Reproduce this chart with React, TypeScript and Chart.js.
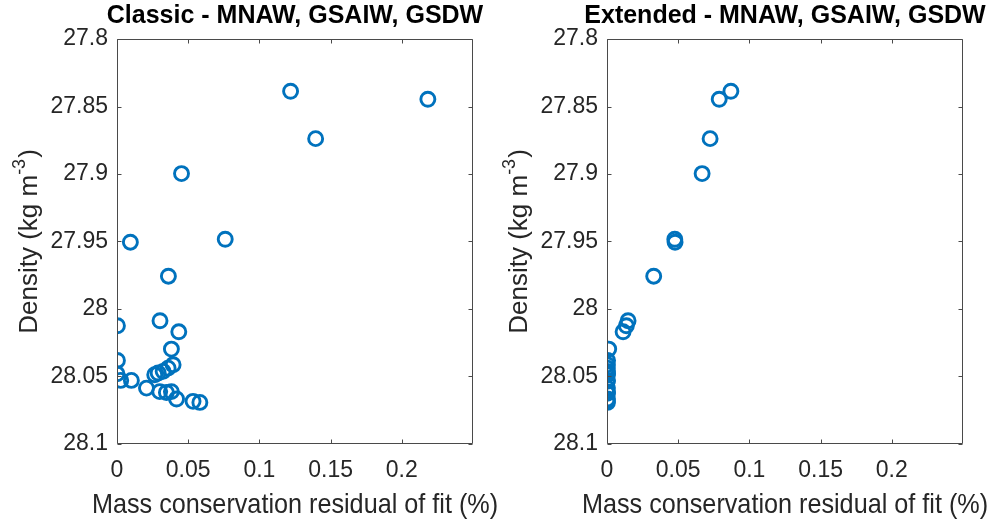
import React, { useEffect, useRef } from "react";
import { Chart, registerables } from "chart.js";

Chart.register(...registerables);

// ---------- data ----------
const classicResidual = [
  0.1219, 0.2183, 0.1395, 0.0453, 0.0094, 0.076, 0.0361, 0.0302, 0.0003, 0.0434,
  0.0382, 0.0003, 0.0394, 0.0359, 0.0324, 0.0289, 0.0265, 0.0, 0.0026, 0.0101,
  0.0207, 0.03, 0.0347, 0.0382, 0.0418, 0.0534, 0.0582,
];
const classicDensity = [
  27.8387, 27.8446, 27.8738, 27.8997, 27.9505, 27.9483, 27.9757, 28.0087, 28.0124, 28.0169,
  28.0297, 28.0381, 28.0413, 28.0438, 28.0462, 28.0474, 28.0487, 28.048, 28.0529, 28.0529,
  28.0586, 28.0612, 28.0618, 28.0612, 28.0667, 28.0684, 28.0692,
];
const extendedResidual = [
  0.087, 0.0788, 0.0724, 0.0668, 0.0478, 0.0476, 0.0328, 0.0148, 0.0136, 0.0113,
  0.0012, 0.0004, 0.0003, 0.0002, 0.0003, 0.0002, 0.0003, 0.0002, 0.0003, 0.0002,
  0.0003, 0.0002, 0.0003, 0.0002, 0.0003, 0.0002, 0.0003,
];
const extendedDensity = [
  27.8387, 27.8446, 27.8738, 27.8997, 27.9505, 27.9483, 27.9757, 28.0087, 28.0124, 28.0169,
  28.0297, 28.0381, 28.0413, 28.0438, 28.0462, 28.0474, 28.0487, 28.048, 28.0529, 28.0535,
  28.0586, 28.0612, 28.0618, 28.0625, 28.0667, 28.0684, 28.0692,
];

const xTickValues = [0, 0.05, 0.1, 0.15, 0.2];
const xTickLabels = ["0", "0.05", "0.1", "0.15", "0.2"];
const yTickValues = [27.8, 27.85, 27.9, 27.95, 28.0, 28.05, 28.1];
const yTickLabels = ["27.8", "27.85", "27.9", "27.95", "28", "28.05", "28.1"];

const panelTitles = ["Classic - MNAW, GSAIW, GSDW", "Extended - MNAW, GSAIW, GSDW"];
const xAxisTitle = "Mass conservation residual of fit (%)";
const yAxisTitleMain = "Density (kg m";
const yAxisTitleSup = "-3";
const yAxisTitleEnd = ")";

const FONT = "'Liberation Sans', Arial, Helvetica, sans-serif";
const MARKER = "#0072BD";
const AXIS = "#262626";

// ---------- plugins ----------
const framePlugin = {
  id: "matlabFrame",
  afterDatasetsDraw(chart: any) {
    const { ctx, chartArea: a, scales } = chart;
    const L = Math.round(a.left) + 0.5;
    const R = Math.round(a.right) - 0.5;
    const T = Math.round(a.top) + 0.5;
    const B = Math.round(a.bottom) - 0.5;
    ctx.save();
    ctx.strokeStyle = "#4a4a4a";
    ctx.lineWidth = 1;
    ctx.beginPath();
    ctx.rect(L, T, R - L, B - T);
    const tl = 4;
    scales.x.ticks.forEach((t: any) => {
      const px = Math.round(scales.x.getPixelForValue(t.value)) + 0.5;
      ctx.moveTo(px, B);
      ctx.lineTo(px, B - tl);
      ctx.moveTo(px, T);
      ctx.lineTo(px, T + tl);
    });
    scales.y.ticks.forEach((t: any) => {
      const py = Math.round(scales.y.getPixelForValue(t.value)) + 0.5;
      ctx.moveTo(L, py);
      ctx.lineTo(L + tl, py);
      ctx.moveTo(R, py);
      ctx.lineTo(R - tl, py);
    });
    ctx.stroke();
    ctx.restore();
  },
};

const textPlugin = {
  id: "matlabTexts",
  afterDraw(chart: any, _args: any, opts: any) {
    const { ctx, chartArea: a } = chart;
    const midX = (a.left + a.right) / 2;
    // panel title, centred on the plot box
    ctx.save();
    ctx.fillStyle = "#000";
    ctx.font = `bold 25px ${FONT}`;
    ctx.textAlign = "center";
    ctx.textBaseline = "alphabetic";
    ctx.fillText(opts.title, midX, 23);
    ctx.restore();

    // x axis title (slightly condensed like the reference)
    ctx.save();
    ctx.fillStyle = AXIS;
    ctx.font = `28px ${FONT}`;
    ctx.textAlign = "center";
    ctx.textBaseline = "alphabetic";
    ctx.translate(midX, 513);
    ctx.scale(0.9, 1);
    ctx.fillText(xAxisTitle, 0, 0);
    ctx.restore();

    // y axis title with superscript
    const mainSize = 26;
    const supSize = 18;
    ctx.save();
    ctx.fillStyle = AXIS;
    const cx = a.left - 80;
    const cy = (a.top + a.bottom) / 2;
    ctx.translate(cx, cy);
    ctx.rotate(-Math.PI / 2);
    ctx.textBaseline = "alphabetic";
    ctx.textAlign = "left";
    ctx.font = `${mainSize}px ${FONT}`;
    const w1 = ctx.measureText(yAxisTitleMain).width;
    const w3 = ctx.measureText(yAxisTitleEnd).width;
    ctx.font = `${supSize}px ${FONT}`;
    const w2 = ctx.measureText(yAxisTitleSup).width;
    const total = w1 + w2 + w3 + 1;
    let x = -total / 2;
    ctx.font = `${mainSize}px ${FONT}`;
    ctx.fillText(yAxisTitleMain, x, 0);
    x += w1;
    ctx.font = `${supSize}px ${FONT}`;
    ctx.fillText(yAxisTitleSup, x, -12);
    x += w2 + 1;
    ctx.font = `${mainSize}px ${FONT}`;
    ctx.fillText(yAxisTitleEnd, x, 0);
    ctx.restore();
  },
};

function makeConfig(title: string, xs: number[], ys: number[], padRight: number): any {
  return {
    type: "scatter",
    data: {
      datasets: [
        {
          data: xs.map((x, i) => ({ x, y: ys[i] })),
          pointStyle: "circle",
          pointRadius: 7,
          pointHoverRadius: 7,
          borderWidth: 2.9,
          borderColor: MARKER,
          backgroundColor: "rgba(0,0,0,0)",
          showLine: false,
        },
      ],
    },
    options: {
      responsive: false,
      animation: false,
      events: [],
      layout: { padding: { left: 0, right: padRight, top: 39, bottom: 0 } },
      plugins: {
        legend: { display: false },
        tooltip: { enabled: false },
        title: { display: false },
        matlabTexts: { title },
      },
      scales: {
        x: {
          type: "linear",
          min: 0,
          max: 0.25,
          grid: { display: false, drawTicks: false },
          border: { display: false },
          afterBuildTicks: (s: any) => {
            s.ticks = xTickValues.map((v) => ({ value: v }));
          },
          afterFit: (s: any) => {
            s.height = 76;
          },
          ticks: {
            autoSkip: false,
            maxRotation: 0,
            padding: 13,
            color: AXIS,
            font: { family: FONT, size: 23 },
            callback: (_v: any, i: number) => xTickLabels[i],
          },
          title: { display: false },
        },
        y: {
          type: "linear",
          min: 27.8,
          max: 28.1,
          reverse: true,
          grid: { display: false, drawTicks: false },
          border: { display: false },
          afterBuildTicks: (s: any) => {
            s.ticks = yTickValues.map((v) => ({ value: v }));
          },
          afterFit: (s: any) => {
            s.width = 117;
          },
          ticks: {
            autoSkip: false,
            padding: 9,
            color: AXIS,
            font: { family: FONT, size: 23 },
            callback: (_v: any, i: number) => yTickLabels[i],
          },
        },
      },
    },
    plugins: [framePlugin, textPlugin],
  };
}

function Panel(props: { title: string; xs: number[]; ys: number[]; left: number; width: number; padRight: number }) {
  const ref = useRef<HTMLCanvasElement | null>(null);
  useEffect(() => {
    if (!ref.current) return;
    const chart = new Chart(ref.current, makeConfig(props.title, props.xs, props.ys, props.padRight));
    return () => chart.destroy();
  }, []);
  return (
    <canvas
      ref={ref}
      width={props.width}
      height={520}
      style={{ position: "absolute", left: props.left, top: 0, width: props.width, height: 520 }}
    />
  );
}

export default function App() {
  return (
    <div style={{ position: "absolute", left: 0, top: 0, width: 993, height: 520, background: "#fff", overflow: "hidden" }}>
      <Panel title={panelTitles[0]} xs={classicResidual} ys={classicDensity} left={0} width={515} padRight={42} />
      <Panel title={panelTitles[1]} xs={extendedResidual} ys={extendedDensity} left={490} width={503} padRight={30} />
    </div>
  );
}
